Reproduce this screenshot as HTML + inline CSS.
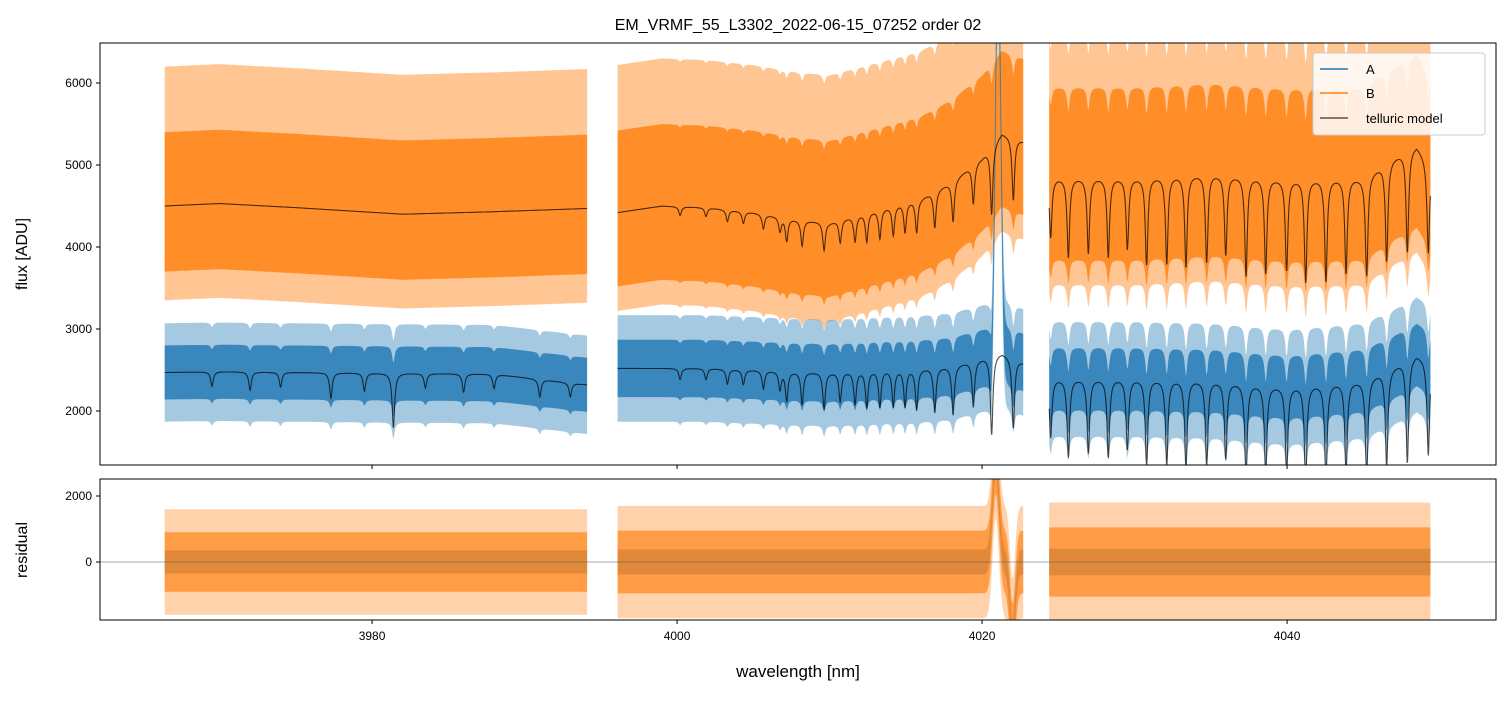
<!DOCTYPE html>
<html><head><meta charset="utf-8"><style>
body{margin:0;background:#fff;width:1510px;height:696px;overflow:hidden}
svg text{font-family:"Liberation Sans","DejaVu Sans",sans-serif;fill:#000}
</style></head><body>
<svg id="chart" width="1510" height="696" xmlns="http://www.w3.org/2000/svg">
<defs>
<clipPath id="clipTop"><rect x="100" y="43" width="1396" height="422"/></clipPath>
<clipPath id="clipBot"><rect x="100" y="479" width="1396" height="141"/></clipPath>
</defs>
<text x="798" y="30" font-size="16" text-anchor="middle">EM_VRMF_55_L3302_2022-06-15_07252  order 02</text>
<g id="topData" clip-path="url(#clipTop)"></g>
<g id="botData" clip-path="url(#clipBot)"></g>
<g id="axes"></g>
<g>
<rect x="1313" y="53" width="172" height="82" rx="3" fill="#fff" fill-opacity="0.85" stroke="#ccc"/>
<line x1="1320" y1="69" x2="1348" y2="69" stroke="#1f77b4" stroke-width="1.5"/>
<text x="1366" y="74" font-size="13">A</text>
<line x1="1320" y1="93" x2="1348" y2="93" stroke="#ff7f0e" stroke-width="1.5"/>
<text x="1366" y="98" font-size="13">B</text>
<line x1="1320" y1="118" x2="1348" y2="118" stroke="#333" stroke-width="1.2"/>
<text x="1366" y="123" font-size="13">telluric model</text>
</g>
<text transform="translate(27,254) rotate(-90)" font-size="16" text-anchor="middle">flux [ADU]</text>
<text transform="translate(27,550) rotate(-90)" font-size="16" text-anchor="middle">residual</text>
<text x="798" y="677" font-size="17" text-anchor="middle">wavelength [nm]</text>
</svg>
<script>
// segments (nm)
const segStart = [3966.4, 3996.1, 4024.4];
const segEnd = [3994.1, 4022.7, 4049.4];
// continuum control points
const contW = [[3966.4,3970,3975,3982,3988,3994.1],[3996.1,3999,4002,4005,4008,4010,4013,4016,4018,4020,4021.3,4022.7],[4024.4,4030,4035,4040,4045,4047,4048.5,4049.4]];
const contB = [[4500,4530,4480,4400,4430,4470],[4420,4500,4480,4420,4330,4300,4450,4600,4800,5100,5400,5300],[4850,4850,4900,4830,4850,5100,5250,5000]];
const contA = [[2470,2480,2470,2460,2450,2320],[2520,2520,2520,2500,2480,2470,2500,2520,2550,2650,2720,2600],[2400,2400,2380,2300,2380,2550,2700,2600]];
// telluric lines
const lineC = [3969.5,3972,3974,3977.3,3979.5,3981.4,3983.5,3986,3988,3991,3993,
 4000.2,4001.9,4003.3,4004.35,4005.66,4006.75,4007.19,4008.2,4009.64,4010.7,4011.67,4012.44,4013.3,4014.18,4014.95,4015.71,4016.9,4018.1,4019.43,4020.63,4022.05,
 4024.5,4025.66,4026.97,4028.28,4029.53,4030.79,4032.11,4033.37,4034.73,4035.98,4037.31,4038.6,4039.97,4041.22,4042.55,4043.87,4045.22,4046.53,4047.89,4049.26];
const lineD = [0.04,0.05,0.04,0.07,0.05,0.15,0.04,0.05,0.04,0.05,0.04,
 0.03,0.03,0.04,0.04,0.05,0.05,0.08,0.09,0.1,0.08,0.09,0.1,0.1,0.1,0.1,0.11,0.12,0.13,0.12,0.2,0.18,
 0.15,0.2,0.19,0.2,0.18,0.22,0.22,0.23,0.22,0.2,0.25,0.24,0.23,0.26,0.26,0.24,0.25,0.24,0.24,0.22,0.2];
const depthScaleA = [1.8, 1.8, 2.0], depthScaleB = [0.0, 0.8, 1.0];
// emission feature in A near 4021
const emitC = [4021.05], emitAmpA = [4800], emitW = [0.25];
// residual feature
const residEmitAmp = [3000, -2200], residEmitC = [4020.9, 4022.0], residEmitW = [0.3, 0.25];
// noise spread per segment (ADU)
const spreadBhi = [900, 1000, 1100], spreadBlo = [800, 900, 1000];
const spreadBoutHi = [1700, 1800, 1800], spreadBoutLo = [1150, 1200, 1300];
const spreadAcore = [330, 350, 380], spreadAout = [600, 650, 700];
const residAcore = [350, 380, 400], residBcore = [900, 950, 1050], residBout = [1600, 1700, 1800];

const X = w => 100 + (w - 3962.16) * 15.25;
const Y = v => 411 - (v - 2000) * 0.082;
const YR = v => 562 - v * 0.033;
const NS='http://www.w3.org/2000/svg';
function interp(ws, vs, w){ for(let i=0;i<ws.length-1;i++){ if(w<=ws[i+1]){const t=(w-ws[i])/(ws[i+1]-ws[i]);return vs[i]+t*(vs[i+1]-vs[i]);}} return vs[vs.length-1]; }
function absorb(w,k){ let f=1; for(let i=0;i<lineC.length;i++){const d=(w-lineC[i])/0.1; f*=1-Math.min(0.95,k*lineD[i])/(1+d*d);} return f; }
function emit(w){ let e=0; for(let i=0;i<emitC.length;i++){const d=(w-emitC[i])/emitW[i]; e+=emitAmpA[i]*Math.exp(-d*d);} return e; }
function rEmit(w){ let e=0; for(let i=0;i<residEmitC.length;i++){const d=(w-residEmitC[i])/residEmitW[i]; e+=residEmitAmp[i]*Math.exp(-d*d);} return e; }
function mk(tag, attrs, parent){ const el=document.createElementNS(NS,tag); for(const k in attrs) el.setAttribute(k,attrs[k]); parent.appendChild(el); return el; }
const top_=document.getElementById('topData'), bot=document.getElementById('botData');
function band(ws, hi, lo, color, op, parent, name){
  let d='M'; ws.forEach((w,i)=>{d+=X(w).toFixed(1)+','+hi[i].toFixed(1)+' L';});
  for(let i=ws.length-1;i>=0;i--) d+=X(ws[i]).toFixed(1)+','+lo[i].toFixed(1)+(i?' L':' Z');
  const p=mk('path',{d:d,fill:color,'fill-opacity':op},parent);
  
  
}
function line(ws, ys, color, op, sw, parent, name){
  const p=mk('path',{d:'M'+ws.map((w,i)=>X(w).toFixed(1)+','+ys[i].toFixed(1)).join(' L'),fill:'none',stroke:color,'stroke-opacity':op,'stroke-width':sw},parent);
  
  
}
const models=[];
for(let s=0;s<3;s++){
  const ws=[]; for(let w=segStart[s]; w<=segEnd[s]; w+=0.02) ws.push(w);
  const cB=ws.map(w=>interp(contW[s],contB[s],w));
  const cA=ws.map(w=>interp(contW[s],contA[s],w));
  const mB=ws.map((w,i)=>cB[i]*absorb(w,depthScaleB[s]));
  const mA=ws.map((w,i)=>cA[i]*absorb(w,depthScaleA[s]));
  const sB=ws.map((w,i)=>cB[i]*absorb(w,depthScaleB[s]*0.3));
  const sA=ws.map((w,i)=>cA[i]*absorb(w,depthScaleA[s]*0.3)+emit(w));
  band(ws, sB.map(v=>Y(v+spreadBoutHi[s])), sB.map(v=>Y(v-spreadBoutLo[s])), '#ff7f0e', 0.45, top_, 'b-flux-outer-'+s);
  band(ws, sB.map(v=>Y(v+spreadBhi[s])), sB.map(v=>Y(v-spreadBlo[s])), '#ff7f0e', 0.8, top_, 'b-flux-core-'+s);
  band(ws, sA.map(v=>Y(v+spreadAout[s])), sA.map(v=>Y(v-spreadAout[s])), '#1f77b4', 0.4, top_, 'a-flux-outer-'+s);
  band(ws, sA.map(v=>Y(v+spreadAcore[s])), sA.map(v=>Y(v-spreadAcore[s])), '#1f77b4', 0.8, top_, 'a-flux-core-'+s);
  models.push([ws,mB,mA]);
  const re=ws.map(rEmit);
  band(ws, re.map(v=>YR(v+residAcore[s])), re.map(v=>YR(v-residAcore[s])), '#1f77b4', 0.6, bot, 'a-resid-core-'+s);
  band(ws, re.map(v=>YR(v+residBout[s])), re.map(v=>YR(v-residBout[s])), '#ff7f0e', 0.35, bot, 'b-resid-outer-'+s);
  band(ws, re.map(v=>YR(v+residBcore[s])), re.map(v=>YR(v-residBcore[s])), '#ff7f0e', 0.65, bot, 'b-resid-core-'+s);
}
models.forEach((m,s)=>{
  line(m[0], m[1].map(Y), '#000', 0.7, 1.1, top_, 'telluric-model-b-'+s);
  line(m[0], m[2].map(Y), '#000', 0.7, 1.1, top_, 'telluric-model-a-'+s);
});
mk('line',{x1:100,x2:1496,y1:562,y2:562,stroke:'#555','stroke-width':0.6},bot);
// axes
const ax=document.getElementById('axes');
const frameT=mk('rect',{x:100,y:43,width:1396,height:422,fill:'none',stroke:'#000','stroke-width':1},ax);


const frameB=mk('rect',{x:100,y:479,width:1396,height:141,fill:'none',stroke:'#000','stroke-width':1},ax);


const xTicks=[3980,4000,4020,4040];
const yTicks=[2000,3000,4000,5000,6000];
const yrTicks=[0,2000];
xTicks.forEach(t=>{
  mk('line',{x1:X(t),x2:X(t),y1:465,y2:469,stroke:'#000'},ax);
  mk('line',{x1:X(t),x2:X(t),y1:620,y2:624,stroke:'#000'},ax);
  const tx=mk('text',{x:X(t),y:640,'font-size':12,'text-anchor':'middle'},ax); tx.textContent=t;
  
  
});
yTicks.forEach(t=>{
  mk('line',{x1:96,x2:100,y1:Y(t),y2:Y(t),stroke:'#000'},ax);
  const tx=mk('text',{x:92,y:Y(t)+4,'font-size':12,'text-anchor':'end'},ax); tx.textContent=t;
  
  
});
yrTicks.forEach(t=>{
  mk('line',{x1:96,x2:100,y1:YR(t),y2:YR(t),stroke:'#000'},ax);
  const tx=mk('text',{x:92,y:YR(t)+4,'font-size':12,'text-anchor':'end'},ax); tx.textContent=t;
  
  
});
</script>
</body></html>
